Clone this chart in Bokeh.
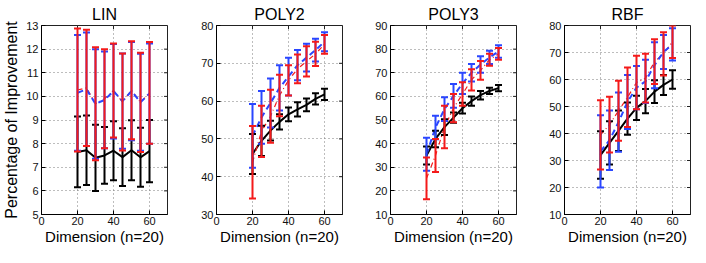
import numpy as np
from bokeh.plotting import figure
from bokeh.models import ColumnDataSource, Whisker, TeeHead, FixedTicker, Range1d
from bokeh.layouts import row
from bokeh.embed import file_html
from bokeh.resources import INLINE

# ---------------- data ----------------
dims = [20, 25, 30, 35, 40, 45, 50, 55, 60]
x_ticks = [0, 20, 40, 60]

# LIN
lin_black_mean = [7.65, 7.72, 7.40, 7.50, 7.70, 7.43, 7.72, 7.42, 7.68]
lin_black_err = [1.50, 1.47, 1.40, 1.20, 1.25, 1.22, 1.27, 1.25, 1.32]
lin_blue_mean = [10.15, 10.30, 9.68, 9.85, 10.22, 9.80, 10.22, 9.75, 10.12]
lin_blue_err = [2.45, 2.40, 2.32, 2.05, 2.00, 2.02, 2.08, 2.05, 2.12]
lin_red_mean = [10.27, 10.36, 9.69, 9.90, 10.25, 9.76, 10.26, 9.75, 10.15]
lin_red_err = [2.60, 2.46, 2.39, 2.10, 1.99, 2.05, 2.07, 2.10, 2.15]

# POLY2
p2_black_mean = [46.0, 49.5, 52.2, 54.5, 56.5, 57.8, 59.0, 60.6, 61.8]
p2_black_err = [5.3, 4.0, 2.6, 2.0, 1.8, 1.9, 1.7, 1.5, 1.5]
p2_blue_mean = [50.8, 55.7, 59.5, 63.5, 66.5, 69.5, 71.5, 73.5, 75.7]
p2_blue_err = [8.4, 7.0, 6.5, 6.0, 5.0, 4.0, 3.7, 3.0, 2.5]
p2_red_mean = [43.8, 52.0, 56.0, 61.5, 65.5, 68.5, 70.5, 72.5, 75.0]
p2_red_err = [9.6, 6.8, 7.0, 5.5, 4.0, 3.8, 4.0, 3.2, 2.5]

# POLY3
p3_black_mean = [35.0, 42.0, 47.0, 51.0, 55.0, 58.0, 60.5, 62.3, 63.5]
p3_black_err = [3.8, 3.5, 3.3, 2.2, 2.3, 2.0, 1.8, 1.3, 1.3]
p3_blue_mean = [35.5, 46.8, 54.6, 60.2, 65.5, 70.0, 73.5, 76.5, 79.0]
p3_blue_err = [7.0, 5.0, 5.0, 5.0, 4.5, 3.7, 3.5, 2.8, 2.6]
p3_red_mean = [25.3, 35.0, 47.0, 55.0, 61.0, 67.0, 71.0, 75.5, 78.0]
p3_red_err = [8.8, 7.0, 9.0, 6.0, 5.0, 4.5, 4.0, 2.5, 2.5]

# RBF
rbf_black_mean = [32.0, 36.5, 41.0, 45.5, 49.5, 52.0, 55.5, 58.0, 60.0]
rbf_black_err = [8.8, 8.0, 7.5, 6.0, 4.5, 4.5, 4.2, 3.7, 3.4]
rbf_blue_mean = [33.4, 37.5, 44.2, 51.7, 57.0, 59.3, 65.3, 70.2, 73.0]
rbf_blue_err = [13.4, 11.0, 11.0, 10.0, 8.0, 8.0, 8.5, 6.3, 6.0]
rbf_red_mean = [39.5, 43.3, 48.4, 53.4, 58.9, 60.5, 66.6, 69.5, 74.0]
rbf_red_err = [12.8, 10.3, 11.1, 11.0, 9.9, 9.0, 8.3, 8.0, 6.0]

panel_titles = ["LIN", "POLY2", "POLY3", "RBF"]
y_ranges = [(5, 13), (30, 80), (10, 90), (10, 80)]
y_steps = [1, 10, 10, 10]
x_label = "Dimension (n=20)"
y_label = "Percentage of Improvement"

FONT = "Liberation Sans"
BLACK = "#000000"
BLUE = "#2a46ff"
RED = "#f41a1a"


def make_src(mean, err):
    mean = np.array(mean, dtype=float)
    err = np.array(err, dtype=float)
    return ColumnDataSource(dict(x=dims, y=mean, upper=mean + err, lower=mean - err))


def add_bars(p, src, color):
    w = Whisker(source=src, base="x", upper="upper", lower="lower",
                line_color=color, line_width=2, level="glyph",
                upper_head=TeeHead(size=7, line_color=color, line_width=2),
                lower_head=TeeHead(size=7, line_color=color, line_width=2))
    p.add_layout(w)


def make_panel(idx, black, blue, red, bl, br):
    y0, y1 = y_ranges[idx]
    yt = list(range(y0, y1 + 1, y_steps[idx]))
    p = figure(frame_width=126, frame_height=189,
               x_range=Range1d(0, 70), y_range=Range1d(y0, y1),
               output_backend="svg", toolbar_location=None,
               min_border_left=bl, min_border_right=br,
               min_border_top=25, min_border_bottom=30)
    p.title.text = panel_titles[idx]
    p.title.align = "center"
    p.title.text_font = FONT
    p.title.text_font_size = "16px"
    p.title.text_font_style = "normal"
    p.title.text_color = "#000000"
    p.title.standoff = 6
    p.outline_line_color = "#222222"
    p.outline_line_width = 1
    p.background_fill_color = "white"
    p.border_fill_color = "white"

    for ax in p.xaxis:
        ax.ticker = FixedTicker(ticks=x_ticks)
        ax.axis_label = x_label
        ax.axis_label_standoff = 0
        ax.major_label_standoff = 2
        ax.axis_label_text_font_size = "15px"
    for ax in p.yaxis:
        ax.ticker = FixedTicker(ticks=yt)
        ax.major_label_standoff = 3
        ax.axis_label_text_font_size = "16px"
        if idx == 0:
            ax.axis_label = y_label
            ax.axis_label_standoff = 3
    for ax in list(p.xaxis) + list(p.yaxis):
        ax.major_tick_in = 4
        ax.major_tick_out = 0
        ax.minor_tick_line_color = None
        ax.major_label_text_font = FONT
        ax.major_label_text_font_size = "11px"
        ax.major_label_text_color = "#111111"
        ax.axis_label_text_font = FONT
        ax.axis_label_text_font_style = "normal"
        ax.axis_label_text_color = "#000000"
        ax.axis_line_color = "#000000"
        ax.major_tick_line_color = "#000000"

    # inward box ticks on the right and top edges (clipped to the frame)
    p.scatter(x=[70] * len(yt), y=yt, marker="dash", size=7,
              line_color="#222222", line_width=1)
    p.scatter(x=x_ticks, y=[y1] * len(x_ticks), marker="dash", angle=np.pi / 2,
              size=7, line_color="#222222", line_width=1)

    p.xgrid.ticker = FixedTicker(ticks=x_ticks)
    p.ygrid.ticker = FixedTicker(ticks=yt)
    for g in (p.xgrid, p.ygrid):
        g.grid_line_color = "#7a7a7a"
        g.grid_line_dash = "1 3"
        g.grid_line_width = 1

    s_black = make_src(*black)
    s_blue = make_src(*blue)
    s_red = make_src(*red)
    p.line("x", "y", source=s_black, line_color=BLACK, line_width=2)
    add_bars(p, s_black, BLACK)
    p.line("x", "y", source=s_red, line_color=RED, line_width=1.2, line_dash="5 3 1 3")
    p.line("x", "y", source=s_blue, line_color=BLUE, line_width=2, line_dash="6 4")
    add_bars(p, s_blue, BLUE)
    add_bars(p, s_red, RED)
    return p


panels = [
    make_panel(0, (lin_black_mean, lin_black_err), (lin_blue_mean, lin_blue_err),
               (lin_red_mean, lin_red_err), 37, 10),
    make_panel(1, (p2_black_mean, p2_black_err), (p2_blue_mean, p2_blue_err),
               (p2_red_mean, p2_red_err), 39, 10),
    make_panel(2, (p3_black_mean, p3_black_err), (p3_blue_mean, p3_blue_err),
               (p3_red_mean, p3_red_err), 38, 10),
    make_panel(3, (rbf_black_mean, rbf_black_err), (rbf_blue_mean, rbf_blue_err),
               (rbf_red_mean, rbf_red_err), 38, 4),
]

layout = row(*panels, spacing=0)
open("out.html", "w").write(file_html(layout, INLINE))
